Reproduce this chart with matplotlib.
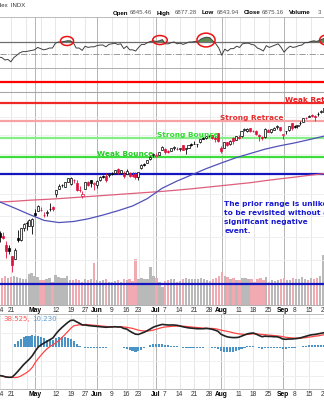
import numpy as np
import pandas as pd
import matplotlib
matplotlib.use("Agg")
import matplotlib.pyplot as plt
from matplotlib.patches import Ellipse

# S&P 500 daily bars, Apr 14 - Sep 22 2025
holidays = ["2025-04-18", "2025-05-26", "2025-06-19", "2025-07-04", "2025-09-01"]
dates = pd.bdate_range("2025-04-14", "2025-09-22")
dates = dates[~dates.isin(pd.to_datetime(holidays))]

opens = [5442, 5411, 5335, 5305, 5232, 5207, 5395, 5381, 5489, 5529, 5508, 5499,
         5626, 5645, 5656, 5605, 5622, 5662, 5679, 5808, 5855, 5896, 5870, 5923, 5903, 5944, 5913, 5841, 5782, 5855, 5925, 5939, 5903,
         5897, 5939, 5979, 5985, 5987, 6005, 6010, 6049, 6010, 5997, 6005, 6013, 5987, 6004, 5969, 6062, 6105, 6112, 6151, 6194,
         6187, 6193, 6247, 6259, 6235, 6240, 6264, 6256, 6256, 6296, 6260, 6268, 6307, 6305, 6306, 6327, 6368, 6370, 6397, 6409, 6374, 6427,
         6271, 6272, 6329, 6304, 6374, 6356, 6388, 6397, 6461, 6450, 6479, 6446, 6445, 6409, 6378, 6386, 6457, 6435, 6457, 6491, 6489,
         6401, 6445, 6456, 6529, 6500, 6505, 6531, 6545, 6590, 6603, 6624, 6608, 6627, 6650, 6657]
highs = [5459, 5450, 5367, 5329, 5233, 5309, 5469, 5485, 5528, 5553, 5565, 5581,
         5659, 5700, 5683, 5633, 5654, 5721, 5691, 5844, 5906, 5906, 5924, 5959, 5968, 5954, 5939, 5878, 5830, 5922, 5930, 5944, 5922,
         5940, 5982, 5991, 6016, 6009, 6021, 6043, 6059, 6045, 6027, 6051, 6024, 6018, 6019, 6026, 6101, 6109, 6146, 6187, 6216,
         6211, 6228, 6284, 6263, 6243, 6268, 6290, 6278, 6272, 6302, 6271, 6299, 6315, 6336, 6310, 6360, 6381, 6390, 6402, 6409, 6390, 6427,
         6288, 6330, 6331, 6346, 6379, 6395, 6409, 6446, 6481, 6474, 6482, 6458, 6456, 6410, 6393, 6478, 6466, 6468, 6487, 6508, 6490,
         6416, 6451, 6503, 6533, 6512, 6513, 6552, 6592, 6600, 6616, 6627, 6624, 6656, 6672, 6696]
lows = [5358, 5386, 5220, 5255, 5101, 5207, 5356, 5371, 5456, 5468, 5505, 5433,
        5597, 5645, 5643, 5587, 5593, 5646, 5647, 5776, 5853, 5868, 5868, 5917, 5895, 5915, 5830, 5825, 5768, 5855, 5886, 5875, 5843,
        5862, 5928, 5966, 5921, 5967, 5993, 6000, 6002, 6004, 5964, 6005, 5975, 5971, 5953, 5943, 6054, 6080, 6108, 6146, 6178,
        6177, 6191, 6247, 6201, 6212, 6231, 6250, 6250, 6240, 6242, 6201, 6263, 6285, 6304, 6282, 6317, 6360, 6363, 6379, 6360, 6330, 6326,
        6212, 6272, 6289, 6300, 6305, 6356, 6364, 6384, 6449, 6441, 6441, 6435, 6400, 6343, 6353, 6376, 6438, 6430, 6457, 6469, 6444,
        6360, 6419, 6444, 6457, 6482, 6477, 6516, 6545, 6579, 6599, 6603, 6551, 6612, 6642, 6657]
closes = [5406, 5396, 5276, 5283, 5158, 5288, 5376, 5485, 5525, 5529, 5560, 5569,
          5604, 5686, 5650, 5607, 5631, 5664, 5660, 5844, 5886, 5892, 5917, 5958, 5964, 5941, 5845, 5842, 5802, 5922, 5889, 5912, 5911,
          5936, 5970, 5971, 5939, 6000, 6006, 6038, 6022, 6045, 5977, 6033, 5982, 5981, 5967, 6025, 6092, 6092, 6141, 6173, 6205,
          6198, 6227, 6279, 6230, 6226, 6263, 6280, 6260, 6269, 6244, 6264, 6297, 6297, 6305, 6309, 6359, 6363, 6389, 6390, 6371, 6362, 6339,
          6238, 6330, 6299, 6345, 6340, 6389, 6374, 6446, 6466, 6469, 6450, 6449, 6411, 6396, 6370, 6467, 6439, 6465, 6481, 6502, 6460,
          6416, 6448, 6502, 6482, 6495, 6512, 6532, 6587, 6584, 6615, 6606, 6600, 6631, 6664, 6693]
volume = [5.6, 5.2, 5.6, 5.3, 5.4, 5.6, 5.5, 5.2, 5.0, 5.1, 6.0, 6.2,
          5.6, 5.5, 4.8, 4.9, 5.0, 5.3, 4.6, 5.9, 5.5, 5.3, 5.2, 5.6, 4.8, 4.9, 5.0, 4.9, 4.6, 5.1, 4.8, 5.0, 8.3,
          4.8, 4.7, 4.8, 5.0, 4.6, 4.5, 4.7, 4.9, 4.6, 5.0, 4.8, 5.0, 4.7, 9.0, 5.0, 5.3, 5.1, 5.0, 7.5, 5.6,
          5.2, 4.6, 3.5, 4.7, 4.9, 5.0, 5.1, 4.6, 4.7, 5.0, 5.2, 5.0, 5.1, 5.0, 5.1, 5.3, 5.0, 4.8, 4.7, 5.0, 5.3, 5.6,
          6.5, 5.6, 5.4, 5.1, 5.3, 4.8, 4.9, 5.2, 5.3, 5.0, 5.1, 4.6, 5.0, 5.3, 4.8, 5.5, 4.6, 4.8, 4.7, 4.9, 5.1,
          5.3, 4.9, 4.8, 5.3, 5.1, 5.0, 5.4, 5.1, 4.8, 5.2, 5.0, 5.3, 5.6, 9.8, 5.4]

# moving averages, read weekly (trading-day index)
sma_days = [0, 5, 10, 15, 20, 25, 30, 35, 40, 45, 50, 55, 60, 65, 70, 75, 80, 85, 90, 95, 100, 105, 110]
sma50 = [5728, 5670, 5610, 5555, 5535, 5545, 5570, 5605, 5645, 5690, 5760, 5860, 5930, 5992, 6055, 6111,
         6165, 6210, 6255, 6290, 6320, 6355, 6392]
sma200 = [5728, 5735, 5745, 5752, 5760, 5770, 5780, 5790, 5800, 5810, 5820, 5830, 5842, 5855, 5870, 5885,
          5900, 5915, 5935, 5953, 5970, 5988, 6005]

rsi = [45, 44, 40, 41, 37, 44, 48, 52, 54, 54, 55, 56,
       57, 61, 59, 57, 58, 60, 60, 68, 70, 70, 71, 72, 72, 69, 60, 60, 56, 63, 61, 62, 62,
       64, 65, 65, 62, 66, 67, 68, 66, 67, 59, 63, 57, 57, 55, 61, 66, 66, 69, 71, 72,
       71, 72, 74, 67, 67, 69, 70, 67, 68, 66, 68, 70, 70, 71, 71, 75, 77, 78, 77, 72, 67, 60,
       48, 58, 55, 59, 59, 63, 61, 67, 68, 68, 66, 65, 60, 58, 55, 64, 61, 63, 65, 67, 61,
       53, 59, 63, 61, 62, 64, 65, 69, 69, 71, 72, 71, 73, 75, 77]

macd = [-100, -102, -105, -106, -106, -97, -86, -74, -62, -52, -42, -30,
        -14, 0, 8, 14, 20, 26, 32, 46, 58, 68, 77, 86, 93, 94, 88, 83, 77, 77, 75, 74, 73,
        72, 71, 70, 69, 70, 70, 71, 70, 70, 65, 63, 56, 50, 45, 44, 48, 52, 57, 63, 69,
        73, 76, 79, 78, 77, 77, 77, 76, 74, 71, 69, 67, 66, 65, 64, 64, 64, 65, 64, 62, 59, 55,
        45, 40, 36, 34, 33, 33, 34, 38, 42, 46, 48, 49, 45, 40, 36, 38, 37, 37, 36, 36, 33,
        28, 27, 28, 28, 29, 30, 32, 35, 38, 41, 43, 44, 46, 48, 50]
signal = [-100, -102, -105, -106, -106, -107, -106, -102, -96, -90, -82, -71,
          -54, -40, -28, -16, -6, 2, 8, 15, 23, 33, 43, 54, 65, 74, 76, 78, 77, 79, 78, 77, 76,
          75, 74, 73, 72, 71, 71, 71, 71, 71, 70, 69, 67, 65, 62, 59, 57, 56, 56, 57, 59,
          62, 65, 68, 70, 71, 72, 73, 73, 73, 73, 72, 71, 70, 69, 68, 67, 66, 66, 65, 65, 64, 62,
          59, 57, 55, 53, 50, 48, 46, 45, 44, 44, 45, 46, 46, 45, 44, 43, 42, 41, 40, 39, 38,
          36, 34, 33, 32, 31, 31, 31, 32, 33, 35, 36, 38, 39, 41, 43]

levels = [7000, 6875, 6750, 6550, 6375, 6175, 6000, 5000]
level_names = ["Weak Retrace", "Strong Retrace", "Strong Bounce", "Weak Bounce"]
tick_dates = ["2025-04-14", "2025-04-21", "2025-05-01", "2025-05-12", "2025-05-19", "2025-05-27",
              "2025-06-02", "2025-06-09", "2025-06-16", "2025-06-23", "2025-07-01", "2025-07-07",
              "2025-07-14", "2025-07-21", "2025-07-28", "2025-08-01", "2025-08-11", "2025-08-18",
              "2025-08-25", "2025-09-02", "2025-09-08", "2025-09-15", "2025-09-22"]

W, H = 324, 400
fig = plt.figure(figsize=(W / 100, H / 100), dpi=100)
SMALL = "Liberation Sans"


def panel(top, bottom):
    return fig.add_axes([0, 1 - bottom / H, 1, (bottom - top) / H])


ax_rsi = panel(17, 68)
ax_vol = panel(68, 305)
ax = panel(68, 305)
ax_macd = panel(314, 389)
ax.patch.set_visible(False)

x = np.arange(len(dates))
o, h, l, c = (np.array(v, dtype=float) for v in (opens, highs, lows, closes))
up = np.r_[True, np.diff(c) >= 0]

week_start = x[np.r_[True, np.diff(dates.dayofweek) < 0]]
month_start = x[np.r_[False, np.diff(dates.month) != 0]]

for a in (ax_rsi, ax_vol, ax, ax_macd):
    a.set_xlim(0.34, 109.43)
    a.tick_params(which="both", length=0, labelleft=False, labelbottom=False)
    a.spines["left"].set_visible(False)
    a.spines["right"].set_visible(False)
    for s in ("top", "bottom"):
        a.spines[s].set_color("#b0b0b0")
        a.spines[s].set_linewidth(0.6)
for a in (ax_rsi, ax_vol, ax_macd):
    for i in week_start:
        a.axvline(i, color="#e3e3e3", lw=0.6, zorder=0)
    for i in month_start:
        a.axvline(i, color="#b4b4b4", lw=0.7, zorder=0)

# volume
ax_vol.bar(x, volume, width=0.8, color=np.where(up, "#b9b9b9", "#f2aab2"), zorder=2)
ax_vol.set_ylim(0, 46.4)
ax_vol.set_yticks([])

# price
ax.set_yscale("log")
ax.set_ylim(4825, 7160)
ax.set_yticks([])
ax.minorticks_off()
for p in [5200, 5400, 5600, 5800, 6200, 6400, 6600]:
    ax.axhline(p, color="#ececec", lw=0.6, zorder=0.5)
level_colors = ["#ff0000", "#a8a8a8", "#f02828", "#f7a3a3", "#86ee86", "#3ddd3d", "#1515c0", "#1515c0"]
level_lw = [1.6, 0.8, 1.6, 1.6, 1.6, 1.6, 1.6, 1.6]
for p, col, lw in zip(levels, level_colors, level_lw):
    ax.axhline(p, color=col, lw=lw, zorder=1.5)

ax.plot(sma_days, sma200, color="#de5f7c", lw=0.9, zorder=2)
ax.plot(sma_days, sma50, color="#5151b9", lw=0.9, zorder=2)

ccol = np.where(up, "#000000", "#e0103c")
ax.vlines(x, l, h, colors=ccol, lw=0.6, zorder=3)
ax.bar(x, np.abs(c - o), bottom=np.minimum(o, c), width=0.7,
       color=np.where(c >= o, "white", ccol), edgecolor=ccol, lw=0.5, zorder=4)

label_x = [96.6, 74.7, 53.2, 33.0]
label_col = ["#e81e1e", "#e63030", "#2ede2e", "#28cc28"]
for name, lx, p, col in zip(level_names, label_x, levels[2:6], label_col):
    ax.text(lx, p, name, color=col, fontsize=5.3, fontweight="bold", va="bottom", ha="left", zorder=5)

ax.text(76.1, 5738, "The prior range is unlikely\nto be revisited without a\nsignificant negative\nevent.",
        color="#1a1ad0", fontsize=5.3, fontweight="bold", va="top", ha="left", linespacing=1.6, zorder=5)

# RSI
r = np.array(rsi, dtype=float)
ax_rsi.set_ylim(26.7, 111.7)
ax_rsi.set_yticks([])
ax_rsi.axhline(70, color="#6e6e6e", lw=0.9, zorder=1)
ax_rsi.axhline(50, color="#9a9a9a", lw=0.7, ls="-.", zorder=1)
ax_rsi.fill_between(x, r, 70, where=r > 70, interpolate=True, color="#5f8a55", lw=0, zorder=2)
ax_rsi.plot(x, r, color="#404040", lw=0.7, zorder=3)
for cx, cy, ew, eh in [(22.9, 71.7, 4.4, 15), (54.2, 73.3, 4.9, 15), (69.7, 73.3, 6.1, 23), (110.4, 73.3, 4.9, 17)]:
    ax_rsi.add_patch(Ellipse((cx, cy), ew, eh, fill=False, ec="#ee1111", lw=1.1, zorder=4))

# MACD
m = np.array(macd, dtype=float)
s = np.array(signal, dtype=float)
ax_macd.set_ylim(-147, 115.5)
ax_macd.set_yticks([])
for v in (-100, -50, 50, 100):
    ax_macd.axhline(v, color="#ededed", lw=0.6, zorder=0)
ax_macd.bar(x, m - s, width=0.72, color="#4a93c6", zorder=2)
ax_macd.plot(x, s, color="#ff4444", lw=0.9, zorder=3)
ax_macd.plot(x, m, color="#222222", lw=1.2, zorder=4)
ax_macd.text(1.0, 107, "38.525,", color="#ff5555", fontsize=5, va="top", ha="left")
ax_macd.text(11.1, 107, "10.230", color="#5b9bd5", fontsize=5, va="top", ha="left")

# date labels
tick_ts = pd.to_datetime(tick_dates)
tick_pos = dates.get_indexer(tick_ts)
is_month = np.isin(tick_pos, month_start)
tick_text = [t.strftime("%b") if mm else str(t.day) for t, mm in zip(tick_ts, is_month)]
for a in (ax, ax_macd):
    a.set_xticks(tick_pos)
    a.set_xticklabels(tick_text, fontsize=4.8, color="#333333", family=SMALL)
    a.tick_params(axis="x", labelbottom=True, pad=1.5)
    for lab, mm in zip(a.get_xticklabels(), is_month):
        if mm:
            lab.set_fontweight("bold")
            lab.set_color("black")

# header
fig.text(25.5 / W, 1 - 5 / H, "S&P 500 Large Cap Index  INDX", fontsize=4.3, color="#333333",
         ha="right", va="center", family=SMALL)
header = [("Open", 113, True), ("6845.46", 130, False), ("High", 157, True), ("6877.28", 175, False),
          ("Low", 202, True), ("6843.94", 217, False), ("Close", 244, True), ("6875.16", 262, False),
          ("Volume", 289, True), ("3", 318, False)]
for txt, px, bold in header:
    fig.text(px / W, 1 - 13 / H, txt, fontsize=4.4, ha="left", va="center", family=SMALL,
             fontweight="bold" if bold else "normal", color="black" if bold else "#555555")

fig.savefig("out.png", dpi=100)
